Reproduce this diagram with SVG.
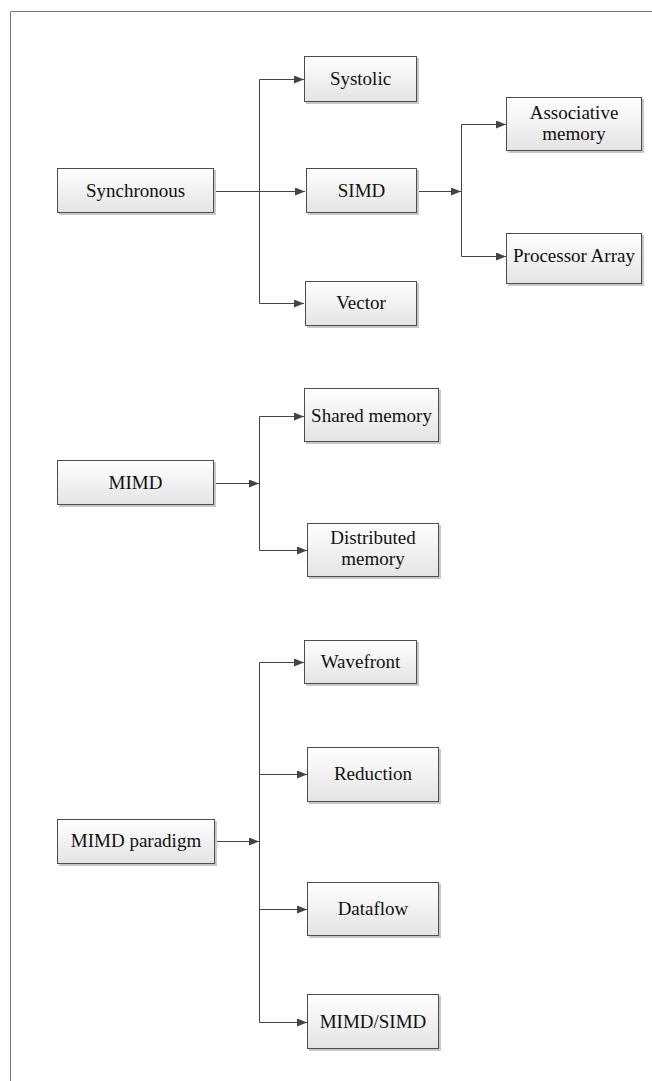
<svg xmlns="http://www.w3.org/2000/svg" width="652" height="1081" viewBox="0 0 652 1081">
<style>
.box{fill:url(#g);stroke:#4d4d4d;stroke-width:1}
.sh{fill:#c8c8c8}
.t{font-family:'Liberation Serif','Times New Roman',Tinos,serif;font-size:19px;fill:#111;text-anchor:middle}
.c{fill:none;stroke:#444;stroke-width:1}
</style>
<defs>
<linearGradient id="g" x1="0" y1="0" x2="0" y2="1">
<stop offset="0" stop-color="#ffffff"/>
<stop offset="1" stop-color="#e4e4e4"/>
</linearGradient>
<marker id="a" markerWidth="10" markerHeight="8" refX="10" refY="4" orient="auto" markerUnits="userSpaceOnUse">
<path d="M0,0 L10,4 L0,8 Z" fill="#444"/>
</marker>
</defs>
<rect width="652" height="1081" fill="#fff"/>
<path d="M10.5,1081 V11.5 H652" fill="none" stroke="#7a7a7a" stroke-width="1"/>

<g id="connectors">
<path class="c" d="M214,191.5 H305" marker-end="url(#a)"/>
<path class="c" d="M259.5,79.5 V303.5"/>
<path class="c" d="M259.5,79.5 H304" marker-end="url(#a)"/>
<path class="c" d="M259.5,303.5 H304" marker-end="url(#a)"/>
<path class="c" d="M417,191.5 H461" marker-end="url(#a)"/>
<path class="c" d="M461.5,124.5 V256.5"/>
<path class="c" d="M461.5,124.5 H506" marker-end="url(#a)"/>
<path class="c" d="M461.5,256.5 H506" marker-end="url(#a)"/>
<path class="c" d="M214,483.5 H259" marker-end="url(#a)"/>
<path class="c" d="M259.5,416.5 V550.5"/>
<path class="c" d="M259.5,416.5 H304" marker-end="url(#a)"/>
<path class="c" d="M259.5,550.5 H307" marker-end="url(#a)"/>
<path class="c" d="M215,841.5 H259" marker-end="url(#a)"/>
<path class="c" d="M259.5,662.5 V1022.5"/>
<path class="c" d="M259.5,662.5 H304" marker-end="url(#a)"/>
<path class="c" d="M259.5,774.5 H307" marker-end="url(#a)"/>
<path class="c" d="M259.5,909.5 H307" marker-end="url(#a)"/>
<path class="c" d="M259.5,1022.5 H307" marker-end="url(#a)"/>
</g>

<g id="synchronous"><rect class="sh" x="59" y="170" width="157" height="45"/><rect class="box" x="57.5" y="168.5" width="156" height="44"/><text class="t" x="135.5" y="197">Synchronous</text></g>
<g id="systolic"><rect class="sh" x="306" y="58" width="113" height="46"/><rect class="box" x="304.5" y="56.5" width="112" height="45"/><text class="t" x="360.5" y="85">Systolic</text></g>
<g id="simd"><rect class="sh" x="308" y="170" width="111" height="45"/><rect class="box" x="306.5" y="168.5" width="110" height="44"/><text class="t" x="361.5" y="197">SIMD</text></g>
<g id="vector"><rect class="sh" x="307" y="283" width="112" height="45"/><rect class="box" x="305.5" y="281.5" width="111" height="44"/><text class="t" x="361" y="309">Vector</text></g>
<g id="associative"><rect class="sh" x="508" y="99" width="136" height="54"/><rect class="box" x="506.5" y="97.5" width="135" height="53"/><text class="t" x="574" y="119">Associative</text><text class="t" x="574" y="140">memory</text></g>
<g id="processor-array"><rect class="sh" x="508" y="235" width="136" height="51"/><rect class="box" x="506.5" y="233.5" width="135" height="50"/><text class="t" x="574" y="262">Processor Array</text></g>
<g id="mimd"><rect class="sh" x="59" y="462" width="157" height="45"/><rect class="box" x="57.5" y="460.5" width="156" height="44"/><text class="t" x="135.5" y="489">MIMD</text></g>
<g id="shared-memory"><rect class="sh" x="306" y="390" width="135" height="54"/><rect class="box" x="304.5" y="388.5" width="134" height="53"/><text class="t" x="371.5" y="422">Shared memory</text></g>
<g id="distributed-memory"><rect class="sh" x="309" y="525" width="132" height="54"/><rect class="box" x="307.5" y="523.5" width="131" height="53"/><text class="t" x="373" y="544">Distributed</text><text class="t" x="373" y="565">memory</text></g>
<g id="mimd-paradigm"><rect class="sh" x="59" y="821" width="158" height="45"/><rect class="box" x="57.5" y="819.5" width="157" height="44"/><text class="t" x="136" y="847">MIMD paradigm</text></g>
<g id="wavefront"><rect class="sh" x="306" y="642" width="113" height="44"/><rect class="box" x="304.5" y="640.5" width="112" height="43"/><text class="t" x="360.5" y="668">Wavefront</text></g>
<g id="reduction"><rect class="sh" x="309" y="749" width="132" height="55"/><rect class="box" x="307.5" y="747.5" width="131" height="54"/><text class="t" x="373" y="780">Reduction</text></g>
<g id="dataflow"><rect class="sh" x="309" y="884" width="132" height="54"/><rect class="box" x="307.5" y="882.5" width="131" height="53"/><text class="t" x="373" y="915">Dataflow</text></g>
<g id="mimd-simd"><rect class="sh" x="309" y="996" width="132" height="55"/><rect class="box" x="307.5" y="994.5" width="131" height="54"/><text class="t" x="373" y="1028">MIMD/SIMD</text></g>
</svg>
